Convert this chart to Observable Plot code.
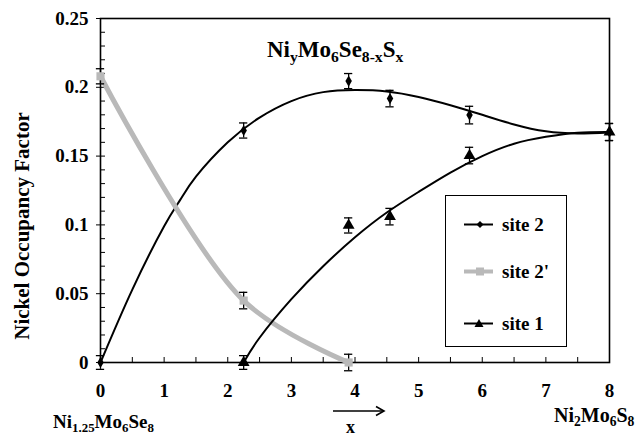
<!DOCTYPE html>
<html><head><meta charset="utf-8">
<script src="https://cdn.jsdelivr.net/npm/d3@7"></script>
<script src="https://cdn.jsdelivr.net/npm/@observablehq/plot@0.6"></script>
<style>
body{margin:0;background:#fff}
#wrap{position:relative;width:643px;height:437px;overflow:hidden;font-family:"Liberation Serif","Times New Roman",serif;font-weight:bold;color:#000}
.abs{position:absolute;white-space:nowrap;line-height:1}
.sb{font-size:0.68em;position:relative;top:0.32em}
#wrap svg.main{position:absolute;left:0;top:0}
</style></head><body><div id="wrap"></div>
<script>
// ---- data ----
const site2X   = [0, 2.25, 3.9, 4.55, 5.8, 8];
const site2Y   = [0, 0.1686, 0.2045, 0.1918, 0.1798, 0.1675];
const site2Err = [0.005, 0.0055, 0.0055, 0.006, 0.0064, 0.0062];

const site2pX   = [0, 2.25, 3.9];
const site2pY   = [0.208, 0.045, 0.0];
const site2pErr = [0.0055, 0.006, 0.006];

const site1X   = [2.25, 3.9, 4.55, 5.8, 8];
const site1Y   = [0, 0.0996, 0.106, 0.1504, 0.1675];
const site1Err = [0.005, 0.0055, 0.006, 0.006, 0.0062];

// trend curves
const trend2X = [0, 0.5, 1, 1.25, 1.5, 2, 2.5, 3, 3.5, 4, 4.5, 5, 5.5, 6, 6.5, 7, 7.5, 8];
const trend2Y = [0, 0.053, 0.099, 0.118, 0.135, 0.16, 0.178, 0.19, 0.1965, 0.198, 0.197, 0.193, 0.187, 0.18, 0.173, 0.168, 0.1665, 0.1672];
const trend1X = [2.25, 2.5, 3, 3.5, 4, 4.5, 5, 5.5, 6, 6.5, 7, 7.5, 8];
const trend1Y = [0, 0.018, 0.046, 0.07, 0.091, 0.109, 0.124, 0.138, 0.15, 0.159, 0.164, 0.167, 0.1675];

const xTickVals = [0, 1, 2, 3, 4, 5, 6, 7, 8];
const xTickLabels = ["0", "1", "2", "3", "4", "5", "6", "7", "8"];
const xMinorTicks = [0, 0.5, 1, 1.5, 2, 2.5, 3, 3.5, 4, 4.5, 5, 5.5, 6, 6.5, 7, 7.5, 8];
const yTickVals = [0, 0.05, 0.1, 0.15, 0.2, 0.25];
const yTickLabels = ["0", "0.05", "0.1", "0.15", "0.2", "0.25"];
const yMinorTicks = d3.range(0, 26).map(i => i / 100);

const seriesNames = ["site 2", "site 2'", "site 1"];

// ---- tables ----
const mk = (xs, ys, es) => xs.map((x, i) => ({x, y: ys[i], e: es ? es[i] : 0}));
const s2 = mk(site2X, site2Y, site2Err);
const s2p = mk(site2pX, site2pY, site2pErr);
const s1 = mk(site1X, site1Y, site1Err);
const t2 = mk(trend2X, trend2Y);
const t1 = mk(trend1X, trend1Y);
const allPts = [...s2, ...s2p, ...s1];
const xLab = new Map(xTickVals.map((v, i) => [v, xTickLabels[i]]));
const yLab = new Map(yTickVals.map((v, i) => [v, yTickLabels[i]]));
const GRAY = "#b9b9b9";

const chart = Plot.plot({
  width: 643, height: 437,
  marginLeft: 100, marginRight: 34, marginTop: 18, marginBottom: 75,
  x: {domain: [0, 8]},
  y: {domain: [0, 0.25]},
  style: {fontFamily: "'Liberation Serif','Times New Roman',serif", fontSize: "19px", fontWeight: "bold", color: "#000", background: "transparent"},
  marks: [
    Plot.axisX(xMinorTicks, {tickSize: -5, tickFormat: () => "", label: null, strokeWidth: 1}),
    Plot.axisX(xTickVals, {tickSize: 0, tickPadding: 21, tickFormat: d => xLab.get(d), label: null}),
    Plot.axisY(yMinorTicks, {tickSize: -5, tickFormat: () => "", label: null, strokeWidth: 1}),
    Plot.axisY(yTickVals, {tickSize: 4, tickPadding: 8, tickFormat: d => yLab.get(d), label: null}),
    Plot.frame({stroke: "#000", strokeWidth: 1.6}),
    Plot.line(t2, {x: "x", y: "y", curve: "natural", stroke: "#000", strokeWidth: 2}),
    Plot.line(s2p, {x: "x", y: "y", curve: "catmull-rom", stroke: GRAY, strokeWidth: 5}),
    Plot.line(t1, {x: "x", y: "y", curve: "natural", stroke: "#000", strokeWidth: 2}),
    Plot.ruleX(allPts, {x: "x", y1: d => d.y - d.e, y2: d => d.y + d.e, stroke: "#000", strokeWidth: 1.3}),
    Plot.ruleY(allPts, {y: d => d.y + d.e, x1: d => d.x - 0.065, x2: d => d.x + 0.065, stroke: "#000", strokeWidth: 1.3}),
    Plot.ruleY(allPts, {y: d => d.y - d.e, x1: d => d.x - 0.065, x2: d => d.x + 0.065, stroke: "#000", strokeWidth: 1.3}),
    Plot.dot(s2p, {x: "x", y: "y", symbol: "square", r: 4.6, fill: GRAY}),
    Plot.dot(s2, {x: "x", y: "y", symbol: "diamond", r: 3.4, fill: "#000"}),
    Plot.dot(s1, {x: "x", y: "y", symbol: "triangle", r: 4.4, fill: "#000"})
  ]
});
chart.classList.add("main");
const wrap = document.getElementById("wrap");
wrap.appendChild(chart);

function addDiv(html, style) {
  const d = document.createElement("div");
  d.className = "abs";
  d.innerHTML = html;
  Object.assign(d.style, style);
  wrap.appendChild(d);
  return d;
}
// title (baseline ~57)
addDiv('Ni<span class="sb">y</span>Mo<span class="sb">6</span>Se<span class="sb">8-x</span>S<span class="sb">x</span>',
  {left: "267px", top: "38px", fontSize: "23px"});
// y label
addDiv('Nickel Occupancy Factor', {left: "22px", top: "226px", fontSize: "21px", transform: "translate(-50%,-50%) rotate(-90deg)"});
// bottom labels
addDiv('Ni<span class="sb">1.25</span>Mo<span class="sb">6</span>Se<span class="sb">8</span>', {left: "53px", top: "412px", fontSize: "19px"});
addDiv('Ni<span class="sb">2</span>Mo<span class="sb">6</span>S<span class="sb">8</span>', {left: "554px", top: "405px", fontSize: "20px"});
addDiv('x', {left: "346px", top: "418px", fontSize: "18px"});
addDiv('<svg width="56" height="12"><line x1="1" y1="6" x2="52" y2="6" stroke="#000" stroke-width="1.6"/><path d="M44,1.5 L52,6 L44,10.5" fill="none" stroke="#000" stroke-width="1.6"/></svg>',
  {left: "332px", top: "404px"});

// legend
const leg = document.createElement("div");
leg.className = "abs";
Object.assign(leg.style, {left: "445px", top: "195px", width: "120px", height: "150px", border: "1.6px solid #000", background: "#fff", fontSize: "19px"});
const rows = [
  {name: seriesNames[0], y: 27, sym: '<path d="M18,3 L21.5,6.5 L18,10 L14.5,6.5Z" fill="#000"/>', stroke: "#000", w: 2},
  {name: seriesNames[1], y: 74, sym: '<rect x="14" y="2.5" width="8" height="8" fill="' + GRAY + '"/>', stroke: GRAY, w: 4},
  {name: seriesNames[2], y: 126, sym: '<path d="M17,2 L21.5,10 L12.5,10Z" fill="#000"/>', stroke: "#000", w: 2}
];
rows.forEach(r => {
  const row = document.createElement("div");
  row.className = "abs";
  Object.assign(row.style, {left: "16px", top: (r.y - 10) + "px"});
  row.innerHTML = '<svg width="34" height="13" style="vertical-align:middle"><line x1="2" y1="6.5" x2="31" y2="6.5" stroke="' + r.stroke + '" stroke-width="' + r.w + '"/>' + r.sym + '</svg><span style="margin-left:6px;vertical-align:middle">' + r.name + '</span>';
  leg.appendChild(row);
});
wrap.appendChild(leg);
</script></body></html>
